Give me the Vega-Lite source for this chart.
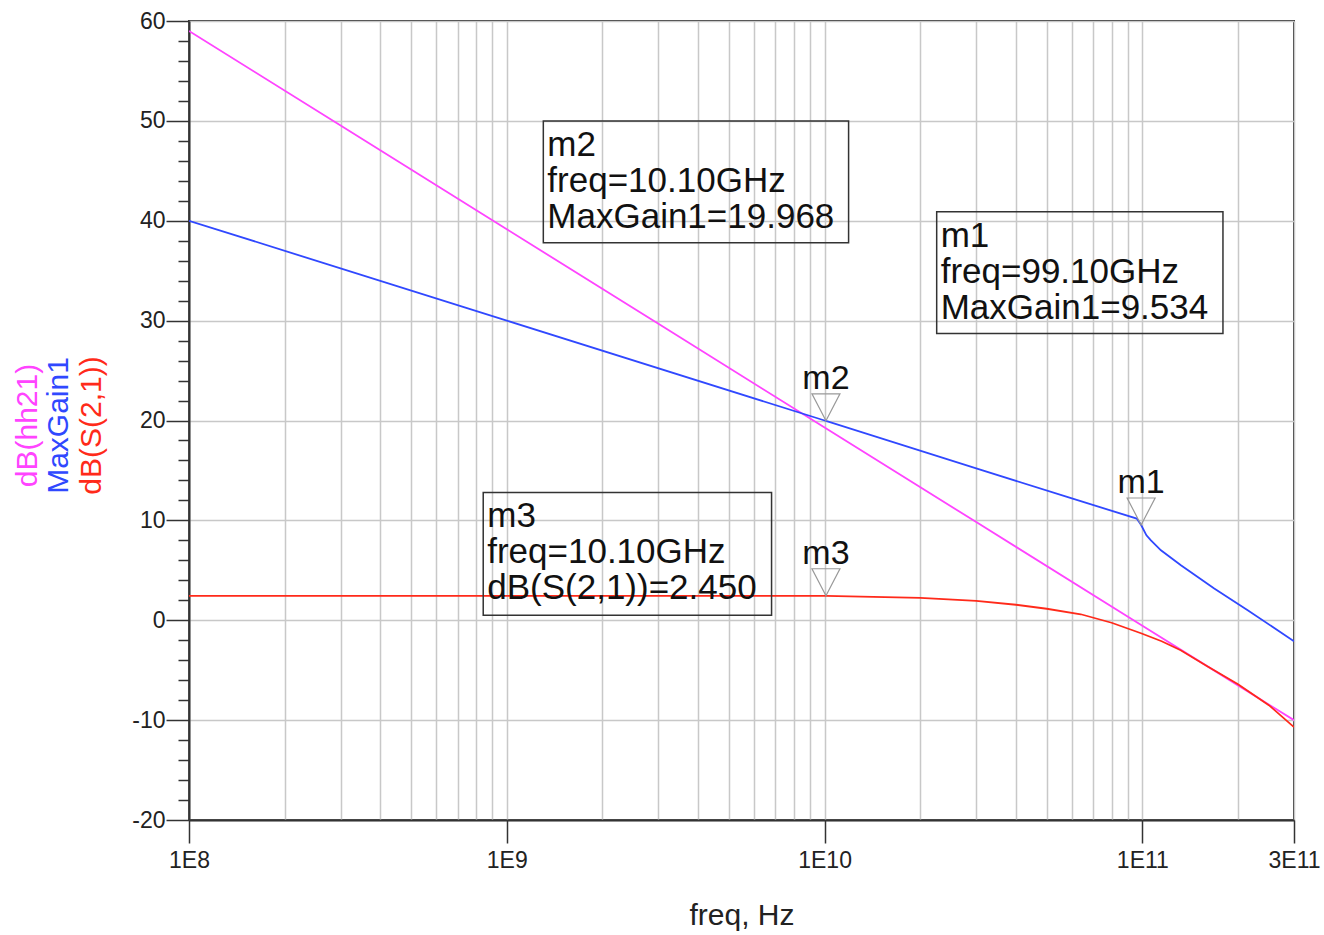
{
  "$schema": "https://vega.github.io/schema/vega-lite/v6.json",
  "width": 1105,
  "height": 799,
  "autosize": {"type": "none"},
  "padding": {"left": 189, "top": 21, "right": 30, "bottom": 115},
  "background": "white",
  "config": {
    "view": {"stroke": "#333333", "strokeWidth": 2},
    "font": "Liberation Sans",
    "text": {"font": "Liberation Sans"}
  },
  "datasets": {
    "curves": [
      {"series": "dB(hh21)", "freq": 1e8, "value": 59.0},
      {"series": "dB(hh21)", "freq": 3e8, "value": 49.53},
      {"series": "dB(hh21)", "freq": 1e9, "value": 39.15},
      {"series": "dB(hh21)", "freq": 3e9, "value": 29.68},
      {"series": "dB(hh21)", "freq": 1e10, "value": 19.3},
      {"series": "dB(hh21)", "freq": 3e10, "value": 9.83},
      {"series": "dB(hh21)", "freq": 1e11, "value": -0.55},
      {"series": "dB(hh21)", "freq": 2e11, "value": -6.52},
      {"series": "dB(hh21)", "freq": 3e11, "value": -10.0},
      {"series": "MaxGain1", "freq": 1e8, "value": 40.0},
      {"series": "MaxGain1", "freq": 1e9, "value": 30.0},
      {"series": "MaxGain1", "freq": 1e10, "value": 20.0},
      {"series": "MaxGain1", "freq": 1.01e10, "value": 19.968},
      {"series": "MaxGain1", "freq": 3e10, "value": 15.2},
      {"series": "MaxGain1", "freq": 6e10, "value": 12.2},
      {"series": "MaxGain1", "freq": 9.6e10, "value": 10.18},
      {"series": "MaxGain1", "freq": 9.91e10, "value": 9.534},
      {"series": "MaxGain1", "freq": 1.03e11, "value": 8.5},
      {"series": "MaxGain1", "freq": 1.064e11, "value": 8.0},
      {"series": "MaxGain1", "freq": 1.144e11, "value": 7.0},
      {"series": "MaxGain1", "freq": 1.322e11, "value": 5.5},
      {"series": "MaxGain1", "freq": 1.683e11, "value": 3.17},
      {"series": "MaxGain1", "freq": 2.145e11, "value": 1.0},
      {"series": "MaxGain1", "freq": 3e11, "value": -2.1},
      {"series": "dB(S(2,1))", "freq": 1e8, "value": 2.45},
      {"series": "dB(S(2,1))", "freq": 1e9, "value": 2.45},
      {"series": "dB(S(2,1))", "freq": 5e9, "value": 2.45},
      {"series": "dB(S(2,1))", "freq": 1.01e10, "value": 2.45},
      {"series": "dB(S(2,1))", "freq": 2e10, "value": 2.25},
      {"series": "dB(S(2,1))", "freq": 3e10, "value": 1.95},
      {"series": "dB(S(2,1))", "freq": 4e10, "value": 1.55},
      {"series": "dB(S(2,1))", "freq": 5e10, "value": 1.15},
      {"series": "dB(S(2,1))", "freq": 6.4e10, "value": 0.6},
      {"series": "dB(S(2,1))", "freq": 8e10, "value": -0.25},
      {"series": "dB(S(2,1))", "freq": 9.9e10, "value": -1.3},
      {"series": "dB(S(2,1))", "freq": 1.15e11, "value": -2.1},
      {"series": "dB(S(2,1))", "freq": 1.32e11, "value": -3.0},
      {"series": "dB(S(2,1))", "freq": 1.6e11, "value": -4.6},
      {"series": "dB(S(2,1))", "freq": 2e11, "value": -6.4},
      {"series": "dB(S(2,1))", "freq": 2.5e11, "value": -8.5},
      {"series": "dB(S(2,1))", "freq": 3e11, "value": -10.7}
    ],
    "markers": [
      {"name": "m1", "freq": 9.91e10, "value": 9.534},
      {"name": "m2", "freq": 1.01e10, "value": 19.968},
      {"name": "m3", "freq": 1.01e10, "value": 2.45}
    ],
    "boxes": [
      {"name": "m2", "freq": 1.303e9, "freq2": 1.19e10, "value": 50.0, "value2": 37.8,
       "label": ["m2", "freq=10.10GHz", "MaxGain1=19.968"]},
      {"name": "m1", "freq": 2.253e10, "freq2": 1.793e11, "value": 40.9, "value2": 28.7,
       "label": ["m1", "freq=99.10GHz", "MaxGain1=9.534"]},
      {"name": "m3", "freq": 8.43e8, "freq2": 6.81e9, "value": 12.8, "value2": 0.5,
       "label": ["m3", "freq=10.10GHz", "dB(S(2,1))=2.450"]}
    ],
    "ytitles": [
      {"series": "dB(hh21)", "freq": 3.111e7, "value": 19.5},
      {"series": "MaxGain1", "freq": 3.896e7, "value": 19.5},
      {"series": "dB(S(2,1))", "freq": 4.948e7, "value": 19.5}
    ]
  },
  "encoding": {
    "x": {
      "field": "freq",
      "type": "quantitative",
      "scale": {"type": "log", "domain": [1e8, 3e11], "nice": false},
      "axis": {
        "values": [1e8, 2e8, 3e8, 4e8, 5e8, 6e8, 7e8, 8e8, 9e8,
                   1e9, 2e9, 3e9, 4e9, 5e9, 6e9, 7e9, 8e9, 9e9,
                   1e10, 2e10, 3e10, 4e10, 5e10, 6e10, 7e10, 8e10, 9e10,
                   1e11, 2e11, 3e11],
        "labelExpr": "datum.value == 1e8 ? '1E8' : datum.value == 1e9 ? '1E9' : datum.value == 1e10 ? '1E10' : datum.value == 1e11 ? '1E11' : datum.value == 3e11 ? '3E11' : ''",
        "labelFlush": false,
        "labelOverlap": false,
        "labelFontSize": 23,
        "labelColor": "#222222",
        "labelPadding": 6,
        "tickSize": 23,
        "tickColor": "#333333",
        "tickWidth": 1.5,
        "tickOpacity": {"condition": {"test": "datum.value == 1e8 || datum.value == 1e9 || datum.value == 1e10 || datum.value == 1e11 || datum.value == 3e11", "value": 1}, "value": 0},
        "grid": true,
        "gridColor": "#c8c8c8",
        "gridWidth": 1.5,
        "domainColor": "#333333",
        "domainWidth": 2,
        "title": "freq, Hz",
        "titleFontSize": 30,
        "titleFontWeight": "normal",
        "titleColor": "#222222",
        "titlePadding": 28
      }
    },
    "y": {
      "field": "value",
      "type": "quantitative",
      "scale": {"domain": [-20, 60], "nice": false, "zero": false},
      "axis": {
        "values": [-20, -18, -16, -14, -12, -10, -8, -6, -4, -2, 0, 2, 4, 6, 8, 10, 12, 14, 16, 18, 20, 22, 24, 26, 28, 30, 32, 34, 36, 38, 40, 42, 44, 46, 48, 50, 52, 54, 56, 58, 60],
        "labelExpr": "datum.value % 10 == 0 ? '' + datum.value : ''",
        "labelFontSize": 23,
        "labelColor": "#222222",
        "labelPadding": 1,
        "labelOverlap": false,
        "labelFlush": false,
        "tickSize": {"condition": {"test": "datum.value % 10 == 0", "value": 23}, "value": 11},
        "tickColor": "#333333",
        "tickWidth": 1.5,
        "grid": true,
        "gridColor": "#c8c8c8",
        "gridWidth": 1.5,
        "gridOpacity": {"condition": {"test": "datum.value % 10 == 0", "value": 1}, "value": 0},
        "domainColor": "#333333",
        "domainWidth": 2,
        "title": null
      }
    }
  },
  "layer": [
    {
      "data": {"name": "curves"},
      "mark": {"type": "line", "strokeWidth": 1.8, "clip": true},
      "encoding": {
        "color": {
          "field": "series",
          "type": "nominal",
          "scale": {"domain": ["dB(hh21)", "MaxGain1", "dB(S(2,1))"], "range": ["#ff44ff", "#3048ff", "#ff2a1a"]},
          "legend": null
        },
        "detail": {"field": "series"}
      }
    },
    {
      "data": {"name": "markers"},
      "mark": {"type": "point", "shape": "M-1,-1.93L1,-1.93L0,0Z", "size": 784, "filled": false, "stroke": "#999999", "strokeWidth": 1.2, "opacity": 1}
    },
    {
      "data": {"name": "markers"},
      "mark": {"type": "text", "dy": -32, "align": "center", "baseline": "alphabetic", "fontSize": 34, "color": "#111111"},
      "encoding": {"text": {"field": "name"}}
    },
    {
      "data": {"name": "boxes"},
      "mark": {"type": "rect", "fill": "transparent", "stroke": "#333333", "strokeWidth": 1.5},
      "encoding": {"x2": {"field": "freq2"}, "y2": {"field": "value2"}}
    },
    {
      "data": {"name": "boxes"},
      "mark": {"type": "text", "align": "left", "baseline": "alphabetic", "dx": 4, "dy": 35, "lineHeight": 36, "fontSize": 35, "color": "#111111"},
      "encoding": {"text": {"field": "label"}}
    },
    {
      "data": {"name": "ytitles"},
      "mark": {"type": "text", "angle": 270, "align": "center", "baseline": "middle", "fontSize": 30},
      "encoding": {
        "text": {"field": "series"},
        "color": {"field": "series", "type": "nominal", "legend": null}
      }
    }
  ]
}
